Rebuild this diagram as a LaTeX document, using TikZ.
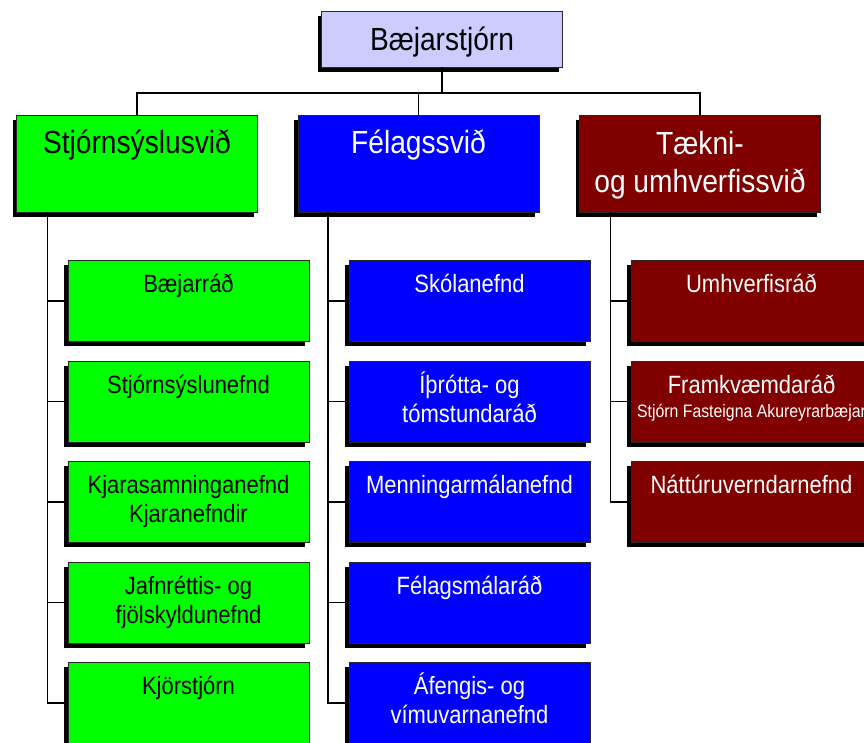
\documentclass[tikz,border=0pt]{standalone}
\usepackage{fontspec}
\setmainfont{Liberation Sans}[FakeStretch=0.88]
\usetikzlibrary{shadows}
\newcommand{\linesc}[1]{\begin{tabular}[t]{@{}c@{}}#1\end{tabular}}

\definecolor{topfill}{RGB}{204,204,255}
\definecolor{stjgreen}{RGB}{0,255,0}
\definecolor{felblue}{RGB}{0,0,255}
\definecolor{tekred}{RGB}{128,0,0}
\definecolor{boxline}{RGB}{40,40,40}

\begin{document}
\begin{tikzpicture}[x=1pt,y=-1pt,
  box/.style={rectangle, draw=boxline, line width=0.9pt, inner sep=0pt, outer sep=0pt,
    minimum width=241pt, minimum height=81pt,
    drop shadow={shadow xshift=-4pt, shadow yshift=-4.5pt, fill=black, opacity=1}},
  headbox/.style={box, minimum height=97pt},
  topbox/.style={box, minimum height=56pt, minimum width=241pt},
  bigtext/.style={anchor=base, inner sep=0pt, font=\fontsize{32}{38}\selectfont},
  subtext/.style={anchor=base, inner sep=0pt, font=\fontsize{25}{29}\selectfont},
  smalltext/.style={anchor=base, inner sep=0pt, font=\fontsize{18}{21}\selectfont},
  conn/.style={draw=black, line width=1.2pt},
]
\clip (0,0) rectangle (864,742);

% top level
\node[topbox, fill=topfill] (top) at (442,39) {};
\node[bigtext] (topt) at (442,50) {Bæjarstjórn};

% divisions
\node[headbox, fill=stjgreen] (gh) at (137,163.5) {};
\node[headbox, fill=felblue]  (bh) at (418.5,163.5) {};
\node[headbox, fill=tekred]   (rh) at (700,163.5) {};
\node[bigtext] (ght) at (137,153) {Stjórnsýslusvið};
\node[bigtext, text=white] (bht) at (418.5,153) {Félagssvið};
\node[bigtext, text=white] (rht) at (700,154) {\linesc{Tækni-\\og umhverfissvið}};

% connectors from the top box to the divisions
\coordinate (bus) at (0,93);
\draw[conn] (top.south) -- (top.south |- bus);
\draw[conn] (gh.north) -- (gh.north |- bus) -- (rh.north |- bus) -- (rh.north);
\draw[conn] (bh.north) -- (bh.north |- bus);

% committees: green column
\foreach \i/\t in {1/260.5, 2/361, 3/461.5, 4/562, 5/662.5}
  \node[box, fill=stjgreen] (g\i) at (188.5,\t+40.5) {};
\node[subtext] (g1t) at (188.5,292.5) {Bæjarráð};
\node[subtext] (g2t) at (188.5,393) {Stjórnsýslunefnd};
\node[subtext] (g3t) at (188.5,493.5) {\linesc{Kjarasamninganefnd\\Kjaranefndir}};
\node[subtext] (g4t) at (188.5,594) {\linesc{Jafnréttis- og\\fjölskyldunefnd}};
\node[subtext] (g5t) at (188.5,694.5) {Kjörstjórn};

% committees: blue column
\foreach \i/\t in {1/260.5, 2/361, 3/461.5, 4/562, 5/662.5}
  \node[box, fill=felblue] (b\i) at (469.5,\t+40.5) {};
\node[subtext, text=white] (b1t) at (469.5,292.5) {Skólanefnd};
\node[subtext, text=white] (b2t) at (469.5,393) {\linesc{Íþrótta- og\\tómstundaráð}};
\node[subtext, text=white] (b3t) at (469.5,493.5) {Menningarmálanefnd};
\node[subtext, text=white] (b4t) at (469.5,594) {Félagsmálaráð};
\node[subtext, text=white] (b5t) at (469.5,694.5) {\linesc{Áfengis- og\\vímuvarnanefnd}};

% committees: red column
\foreach \i/\t in {1/260.5, 2/361, 3/461.5}
  \node[box, fill=tekred] (r\i) at (751.5,\t+40.5) {};
\node[subtext, text=white] (r1t) at (751.5,292.5) {Umhverfisráð};
\node[subtext, text=white] (r2t) at (751.5,393) {Framkvæmdaráð};
\node[smalltext, text=white] (r2s) at (751.5,417) {Stjórn Fasteigna Akureyrarbæjar};
\node[subtext, text=white] (r3t) at (751.5,493.5) {Náttúruverndarnefnd};

% column trunks and stubs
\coordinate (gtr) at ([xshift=31pt]gh.south west);
\coordinate (btr) at ([xshift=30pt]bh.south west);
\coordinate (rtr) at ([xshift=31pt]rh.south west);
\draw[conn] (gtr) -- (gtr |- g5.west) -- (g5.west);
\foreach \i in {1,...,4} \draw[conn] (gtr |- g\i.west) -- (g\i.west);
\draw[conn] (btr) -- (btr |- b5.west) -- (b5.west);
\foreach \i in {1,...,4} \draw[conn] (btr |- b\i.west) -- (b\i.west);
\draw[conn] (rtr) -- (rtr |- r3.west) -- (r3.west);
\foreach \i in {1,2} \draw[conn] (rtr |- r\i.west) -- (r\i.west);
\end{tikzpicture}
\end{document}
